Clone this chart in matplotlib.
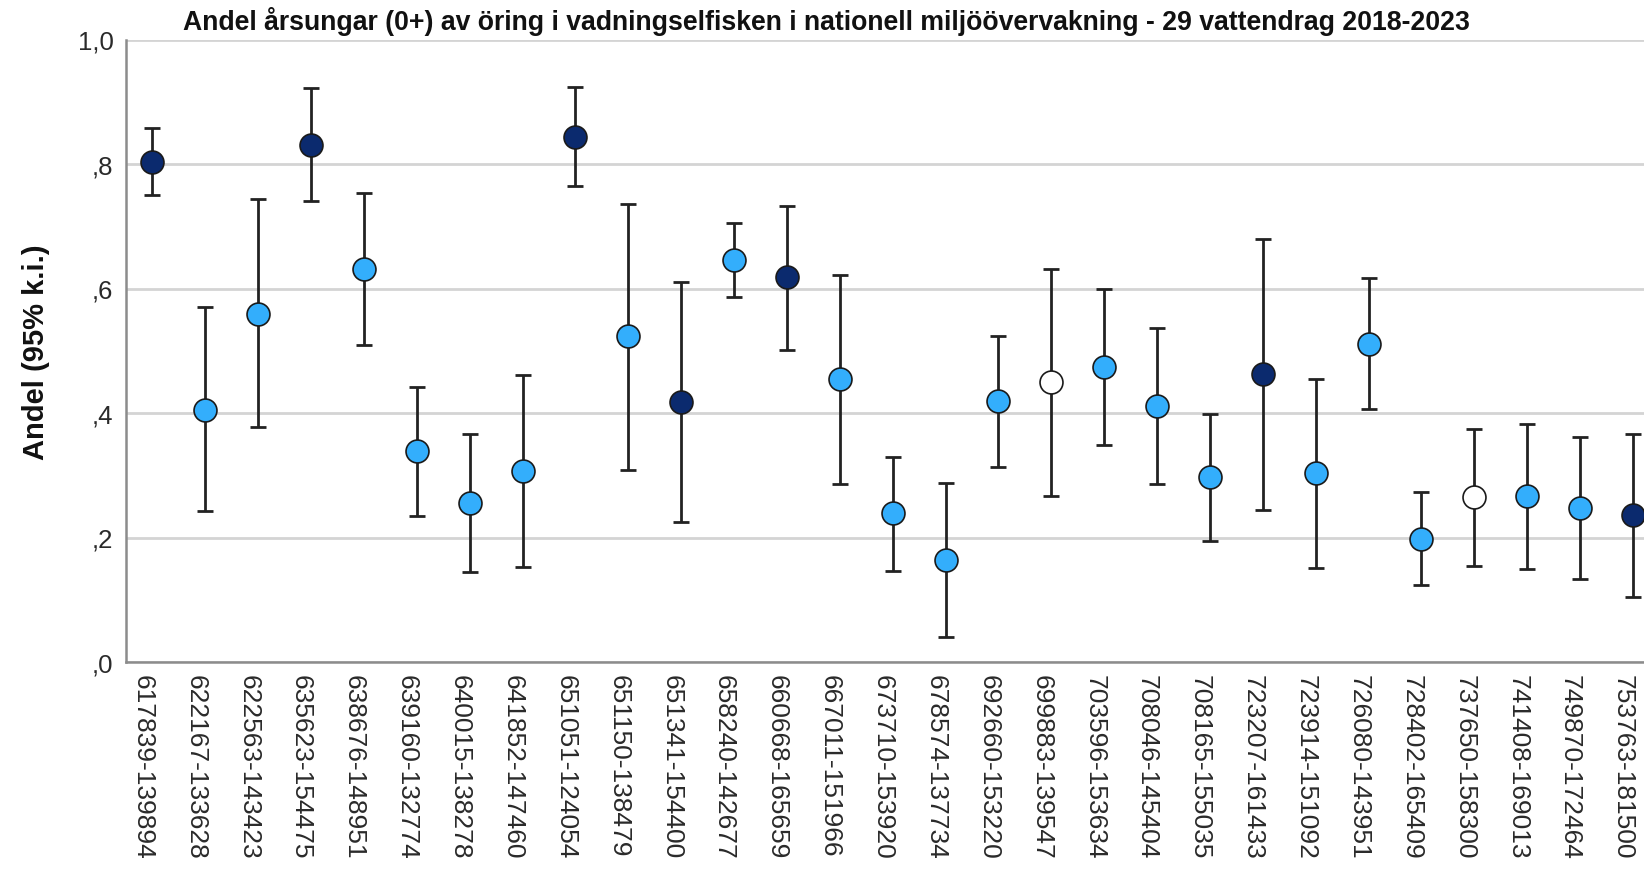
import matplotlib
matplotlib.use('Agg')
import matplotlib.pyplot as plt
from matplotlib.ticker import FixedLocator, FuncFormatter
from matplotlib.transforms import ScaledTranslation

# Vattendrag (koordinat-id) i ordning längs x-axeln
vattendrag = [
    '617839-139894', '622167-133628', '622563-143423', '635623-154475',
    '638676-148951', '639160-132774', '640015-138278', '641852-147460',
    '651051-124054', '651150-138479', '651341-154400', '658240-142677',
    '660668-165659', '667011-151966', '673710-153920', '678574-137734',
    '692660-153220', '699883-139547', '703596-153634', '708046-145404',
    '708165-155035', '723207-161433', '723914-151092', '726080-143951',
    '728402-165409', '737650-158300', '741408-169013', '749870-172464',
    '753763-181500',
]

# Andel årsungar och 95 % konfidensintervall
andel = [0.804, 0.405, 0.559, 0.831, 0.632, 0.339, 0.256, 0.307,
         0.843, 0.523, 0.418, 0.646, 0.619, 0.454, 0.239, 0.164,
         0.419, 0.450, 0.474, 0.411, 0.297, 0.462, 0.303, 0.511,
         0.198, 0.265, 0.267, 0.248, 0.236]
ki_lag = [0.750, 0.242, 0.377, 0.741, 0.509, 0.235, 0.145, 0.152,
          0.765, 0.308, 0.225, 0.586, 0.501, 0.286, 0.146, 0.040,
          0.314, 0.267, 0.348, 0.286, 0.195, 0.244, 0.151, 0.406,
          0.123, 0.154, 0.150, 0.134, 0.105]
ki_hog = [0.858, 0.570, 0.743, 0.922, 0.754, 0.442, 0.367, 0.461,
          0.923, 0.735, 0.611, 0.706, 0.733, 0.621, 0.329, 0.288,
          0.524, 0.632, 0.600, 0.537, 0.399, 0.680, 0.455, 0.617,
          0.273, 0.374, 0.382, 0.361, 0.367]

# Markörgrupp per vattendrag (färgkodning i originalet)
grupp = ['mörk', 'ljus', 'ljus', 'mörk', 'ljus', 'ljus', 'ljus', 'ljus',
         'mörk', 'ljus', 'mörk', 'ljus', 'mörk', 'ljus', 'ljus', 'ljus',
         'ljus', 'vit', 'ljus', 'ljus', 'ljus', 'mörk', 'ljus', 'ljus',
         'ljus', 'vit', 'ljus', 'ljus', 'mörk']
farger = {'mörk': '#0b2a6e', 'ljus': '#33aefc', 'vit': '#ffffff'}

yticks = [0.0, 0.2, 0.4, 0.6, 0.8, 1.0]

plt.rcParams['font.family'] = ['Liberation Sans', 'DejaVu Sans']

W, H = 1644, 870
fig = plt.figure(figsize=(W / 100, H / 100), dpi=100)
ax = fig.add_axes([126 / W, 1 - 663 / H, 1 - 126 / W, (663 - 40.5) / H])

x = list(range(len(vattendrag)))
err = [[a - l for a, l in zip(andel, ki_lag)],
       [h - a for a, h in zip(andel, ki_hog)]]

ax.errorbar(x, andel, yerr=err, fmt='none', ecolor='#222222',
            elinewidth=2.0, capsize=5.5, capthick=2.0, zorder=3)

for g, c in farger.items():
    xs = [xi for xi, gi in zip(x, grupp) if gi == g]
    ys = [a for a, gi in zip(andel, grupp) if gi == g]
    ax.plot(xs, ys, 'o', ms=16.5, mfc=c, mec='#1a1a1a', mew=1.2,
            linestyle='none', zorder=4)

ax.set_ylim(0, 1.0)
ax.set_xlim(-0.5, 28.21)
ax.yaxis.set_major_locator(FixedLocator(yticks))
ax.yaxis.set_major_formatter(FuncFormatter(
    lambda v, p: f"{v:.1f}".replace('.', ',').lstrip('0') if v < 1 else f"{v:.1f}".replace('.', ',')))
ax.set_xticks(x)
ax.set_xticklabels(vattendrag, rotation=270, va='top', ha='center')

ax.grid(axis='y', color='#d4d4d4', linewidth=2.0, zorder=0)
ax.set_axisbelow(True)
ax.tick_params(length=0, labelcolor='#2a2a2a')
ax.tick_params(axis='y', pad=9, labelsize=18.5)
ax.tick_params(axis='x', pad=9, labelsize=19)

# etiketterna sitter något till vänster om sina tickar i originalet
for lbl in ax.get_xticklabels():
    lbl.set_transform(lbl.get_transform() + ScaledTranslation(-0.10, 0, fig.dpi_scale_trans))

for s in ['top', 'right']:
    ax.spines[s].set_visible(False)
for s in ['left', 'bottom']:
    ax.spines[s].set_color('#8c8c8c')
    ax.spines[s].set_linewidth(1.8)

ax.set_ylabel('Andel (95% k.i.)', fontsize=21, fontweight='bold', color='#111111')
ax.yaxis.set_label_coords(-0.05, 0.5)

title = fig.text(826 / W, 1 - 21 / H,
                 'Andel årsungar (0+) av öring i vadningselfisken i nationell '
                 'miljöövervakning - 29 vattendrag 2018-2023',
                 ha='center', va='center', fontweight='bold', fontsize=16,
                 color='#111111')

# anpassa titelns storlek till bredden i originalet
fig.canvas.draw()
w = title.get_window_extent().width
title.set_fontsize(16 * 1285 / w)

fig.savefig('out.png', dpi=100)
